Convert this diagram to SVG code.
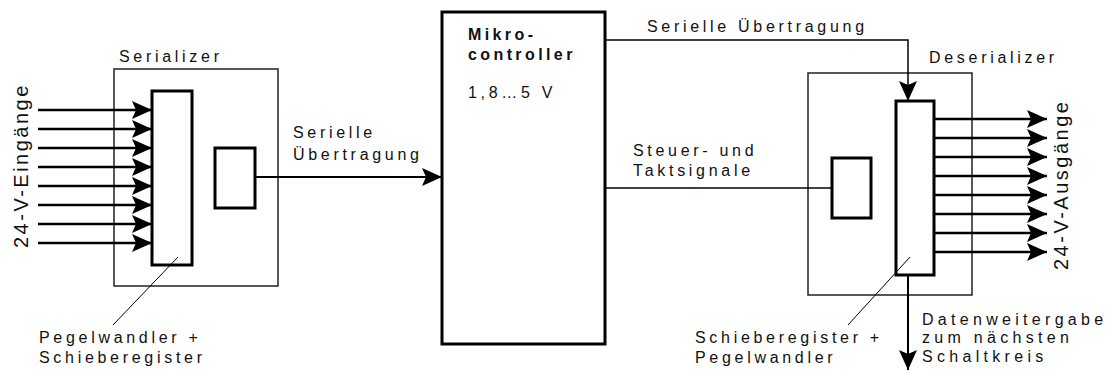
<svg xmlns="http://www.w3.org/2000/svg" width="1111" height="381" viewBox="0 0 1111 381">
  <style>
    text { font-family: "Liberation Sans", Arial, sans-serif; font-size: 16px; letter-spacing: 3.7px; fill: #111; }
    .big { font-size: 20px; letter-spacing: 2.5px; }
    .bold { font-weight: bold; letter-spacing: 3.4px; }
    .wide { letter-spacing: 4.3px; }
    .frame { fill: none; stroke: #222; stroke-width: 1.5; }
    .block { fill: #fff; stroke: #000; stroke-width: 3; }
    .thin { fill: none; stroke: #000; stroke-width: 1.5; }
    .sig { fill: none; stroke: #000; stroke-width: 2.5; }
    .lead { fill: none; stroke: #000; stroke-width: 1; }
  </style>
  <defs>
    <marker id="arrow" markerUnits="userSpaceOnUse" markerWidth="24" markerHeight="22" viewBox="-22 -11 24 22" refX="0" refY="0" orient="auto">
      <path d="M0,0 L-20,-9 L-16,0 L-20,9 Z" fill="#000"/>
    </marker>
  </defs>

  <rect width="1111" height="381" fill="#fff"/>

  <!-- Serializer -->
  <g id="serializer">
    <rect class="frame" x="114" y="69" width="164" height="217"/>
    <text x="119" y="62">Serializer</text>
    <rect id="ser-shift" class="block" x="152" y="91" width="40" height="174"/>
    <rect id="ser-ctrl" class="block" x="215" y="148" width="40" height="60"/>
  </g>

  <!-- Microcontroller -->
  <g id="mcu">
    <rect class="block" x="442" y="12" width="163" height="332"/>
    <text class="bold" x="468" y="40">Mikro-</text>
    <text class="bold" x="468" y="60">controller</text>
    <text x="468" y="98">1,8…5 V</text>
  </g>

  <!-- Deserializer -->
  <g id="deserializer">
    <rect class="frame" x="808" y="73" width="164" height="222"/>
    <text x="929" y="63">Deserializer</text>
    <rect id="des-ctrl" class="block" x="832" y="158" width="39" height="60"/>
    <rect id="des-shift" class="block" x="896" y="101" width="38" height="174"/>
  </g>

  <!-- Connectors -->
  <g id="connectors">
    <!-- 24 V inputs -->
    <g class="sig" marker-end="url(#arrow)">
      <path d="M38,110 H152"/>
      <path d="M38,129 H152"/>
      <path d="M38,148 H152"/>
      <path d="M38,167 H152"/>
      <path d="M38,186 H152"/>
      <path d="M38,205 H152"/>
      <path d="M38,224 H152"/>
      <path d="M38,243 H152"/>
    </g>
    <!-- serial data to microcontroller -->
    <path d="M255,177 H442" fill="none" stroke="#000" stroke-width="2" marker-end="url(#arrow)"/>
    <!-- serial data to deserializer -->
    <path class="thin" d="M605,40 H908 V101" marker-end="url(#arrow)"/>
    <!-- control and clock -->
    <path class="thin" d="M605,188 H832"/>
    <!-- 24 V outputs -->
    <g class="sig" marker-end="url(#arrow)">
      <path d="M934,119 H1047"/>
      <path d="M934,138 H1047"/>
      <path d="M934,157 H1047"/>
      <path d="M934,176 H1047"/>
      <path d="M934,195 H1047"/>
      <path d="M934,214 H1047"/>
      <path d="M934,233 H1047"/>
      <path d="M934,252 H1047"/>
    </g>
    <!-- cascade output -->
    <path d="M908,275 V370" fill="none" stroke="#000" stroke-width="2" marker-end="url(#arrow)"/>
    <!-- leader lines -->
    <path class="lead" d="M178,257 L113,325"/>
    <path class="lead" d="M910,257 L848,325"/>
  </g>

  <!-- Labels -->
  <g id="labels">
    <text class="big" transform="translate(28,248) rotate(-90)">24-V-Eingänge</text>
    <text class="big" transform="translate(1068,270) rotate(-90)">24-V-Ausgänge</text>
    <text x="293" y="138">Serielle</text>
    <text x="293" y="160">Übertragung</text>
    <text x="647" y="32">Serielle Übertragung</text>
    <text x="633" y="156">Steuer- und</text>
    <text x="633" y="176">Taktsignale</text>
    <text x="39" y="343">Pegelwandler +</text>
    <text x="39" y="363">Schieberegister</text>
    <text x="695" y="343">Schieberegister +</text>
    <text x="695" y="363">Pegelwandler</text>
    <text class="wide" x="922" y="325">Datenweitergabe</text>
    <text class="wide" x="922" y="343">zum nächsten</text>
    <text class="wide" x="922" y="362">Schaltkreis</text>
  </g>
</svg>
